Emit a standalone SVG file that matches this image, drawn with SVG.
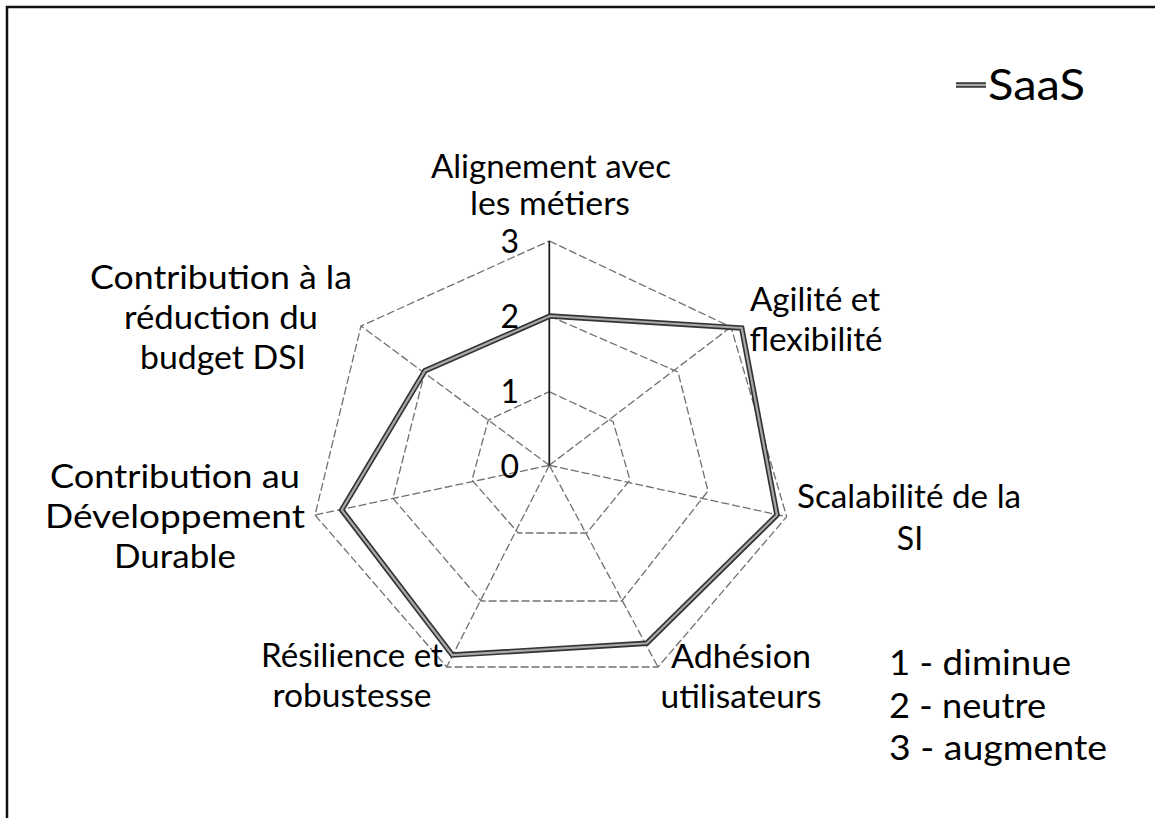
<svg xmlns="http://www.w3.org/2000/svg" width="1155" height="818" viewBox="0 0 1155 818">
<style>
  .lbl{font-family:Lato,"Liberation Sans",sans-serif;font-size:32px;fill:#000;text-anchor:middle}
  .num{font-family:Lato,"Liberation Sans",sans-serif;font-size:32px;fill:#000;text-anchor:end}
  .leg{font-family:Lato,"Liberation Sans",sans-serif;font-size:35.5px;fill:#000}
  .ring{fill:none;stroke:#707070;stroke-width:1.3;stroke-dasharray:8 3;stroke-linejoin:miter}
  .spoke{stroke:#707070;stroke-width:1.3;stroke-dasharray:8 3}
  .axis{stroke:#202020;stroke-width:1.8}
  .serOut{fill:none;stroke:#333;stroke-width:5.5;stroke-linejoin:miter}
  .serIn{fill:none;stroke:#a8a8a8;stroke-width:2.2;stroke-linejoin:miter}
</style>
<rect x="0" y="0" width="1155" height="818" fill="#fff"/>
<g id="frame">
  <line x1="6" y1="7" x2="1155" y2="7" stroke="#111" stroke-width="2.5"/>
  <line x1="7" y1="6" x2="7" y2="818" stroke="#111" stroke-width="2.5"/>
</g>
<g id="connectors">
  <g id="grid">
    <polygon class="ring" points="549.3,391.7 613,421.5 630,480 586.7,533 518.3,533 472,480 488.3,420"/>
    <polygon class="ring" points="549.3,316 678,372 708,491 621.7,601 481,601 393,498.4 425,371"/>
    <polygon class="ring" points="549.3,241 731,327 786.7,516.7 658,667 446.7,667 315,515 361,326"/>
    <line class="spoke" x1="549.3" y1="465.3" x2="731" y2="327"/>
    <line class="spoke" x1="549.3" y1="465.3" x2="786.7" y2="516.7"/>
    <line class="spoke" x1="549.3" y1="465.3" x2="658" y2="667"/>
    <line class="spoke" x1="549.3" y1="465.3" x2="446.7" y2="667"/>
    <line class="spoke" x1="549.3" y1="465.3" x2="315" y2="515"/>
    <line class="spoke" x1="549.3" y1="465.3" x2="361" y2="326"/>
    <line class="axis" x1="549.3" y1="465.3" x2="549.3" y2="241"/>
  </g>
  <g id="series-saas">
    <polygon class="serOut" points="550,316 741.7,328 777,515 646.7,643.3 452.3,655 341.7,510 425,370.7"/>
    <polygon class="serIn" points="550,316 741.7,328 777,515 646.7,643.3 452.3,655 341.7,510 425,370.7"/>
  </g>
</g>
<g id="axis-values">
  <text class="num" x="519" y="253">3</text>
  <text class="num" x="519" y="328">2</text>
  <text class="num" x="519" y="403">1</text>
  <text class="num" x="519" y="478">0</text>
</g>
<g id="lbl-alignement">
  <text class="lbl" x="551" y="178" textLength="240" lengthAdjust="spacingAndGlyphs">Alignement avec</text>
  <text class="lbl" x="550" y="215" textLength="160" lengthAdjust="spacingAndGlyphs">les métiers</text>
</g>
<g id="lbl-agilite">
  <text class="lbl" x="815" y="311" textLength="130" lengthAdjust="spacingAndGlyphs">Agilité et</text>
  <text class="lbl" x="816" y="351" textLength="133" lengthAdjust="spacingAndGlyphs">flexibilité</text>
</g>
<g id="lbl-scalabilite">
  <text class="lbl" x="909" y="508" textLength="224" lengthAdjust="spacingAndGlyphs">Scalabilité de la</text>
  <text class="lbl" x="910" y="550">SI</text>
</g>
<g id="lbl-adhesion">
  <text class="lbl" x="741" y="668" textLength="140" lengthAdjust="spacingAndGlyphs">Adhésion</text>
  <text class="lbl" x="741" y="708" textLength="161" lengthAdjust="spacingAndGlyphs">utilisateurs</text>
</g>
<g id="lbl-resilience">
  <text class="lbl" x="352" y="667" textLength="182" lengthAdjust="spacingAndGlyphs">Résilience et</text>
  <text class="lbl" x="352" y="707" textLength="159" lengthAdjust="spacingAndGlyphs">robustesse</text>
</g>
<g id="lbl-developpement">
  <text class="lbl" x="175" y="488" textLength="250" lengthAdjust="spacingAndGlyphs">Contribution au</text>
  <text class="lbl" x="175" y="528" textLength="260" lengthAdjust="spacingAndGlyphs">Développement</text>
  <text class="lbl" x="175" y="568" textLength="122" lengthAdjust="spacingAndGlyphs">Durable</text>
</g>
<g id="lbl-budget">
  <text class="lbl" x="221" y="289" textLength="262" lengthAdjust="spacingAndGlyphs">Contribution à la</text>
  <text class="lbl" x="221" y="329" textLength="194" lengthAdjust="spacingAndGlyphs">réduction du</text>
  <text class="lbl" x="223" y="369" textLength="166" lengthAdjust="spacingAndGlyphs">budget DSI</text>
</g>
<g id="legend">
  <line x1="956" y1="85" x2="986" y2="85" stroke="#333" stroke-width="5.5"/>
  <line x1="956" y1="85" x2="986" y2="85" stroke="#a8a8a8" stroke-width="2.2"/>
  <text x="988" y="100" font-family="Lato, 'Liberation Sans', sans-serif" font-size="43" textLength="97" lengthAdjust="spacingAndGlyphs">SaaS</text>
</g>
<g id="scale-note">
  <text class="leg" x="889" y="675" textLength="182" lengthAdjust="spacingAndGlyphs">1 - diminue</text>
  <text class="leg" x="889" y="718" textLength="157" lengthAdjust="spacingAndGlyphs">2 - neutre</text>
  <text class="leg" x="889" y="760" textLength="218" lengthAdjust="spacingAndGlyphs">3 - augmente</text>
</g>
</svg>
